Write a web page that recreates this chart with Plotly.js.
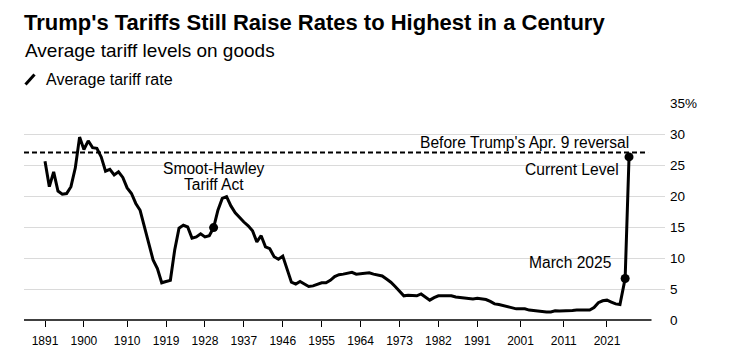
<!DOCTYPE html>
<html>
<head>
<meta charset="utf-8">
<script src="https://cdn.plot.ly/plotly-3.0.1.min.js"></script>
<style>
  html, body { margin: 0; padding: 0; background: #fff; }
  #chart { width: 734px; height: 362px; }
</style>
</head>
<body>
<div id="chart"></div>
<script>
// ---- Data ----
const years = [
  1891, 1892, 1893, 1894, 1895, 1896, 1897, 1898, 1899, 1900,
  1901, 1902, 1903, 1904, 1905, 1906, 1907, 1908, 1909, 1910,
  1911, 1912, 1913, 1914, 1915, 1916, 1917, 1918, 1919, 1920,
  1921, 1922, 1923, 1924, 1925, 1926, 1927, 1928, 1929, 1930,
  1931, 1932, 1933, 1934, 1935, 1936, 1937, 1938, 1939, 1940,
  1941, 1942, 1943, 1944, 1945, 1946, 1947, 1948, 1949, 1950,
  1951, 1952, 1953, 1954, 1955, 1956, 1957, 1958, 1959, 1960,
  1961, 1962, 1963, 1964, 1965, 1966, 1967, 1968, 1969, 1970,
  1971, 1972, 1973, 1974, 1975, 1976, 1977, 1978, 1979, 1980,
  1981, 1982, 1983, 1984, 1985, 1986, 1987, 1988, 1989, 1990,
  1991, 1992, 1993, 1994, 1995, 1996, 1997, 1998, 1999, 2000,
  2001, 2002, 2003, 2004, 2005, 2006, 2007, 2008, 2009, 2010,
  2011, 2012, 2013, 2014, 2015, 2016, 2017, 2018, 2019, 2020,
  2021, 2022, 2023, 2024, 2025.2, 2026.1
];
const tariffRate = [
  25.6, 21.5, 23.9, 20.8, 20.3, 20.4, 21.5, 24.5, 29.5, 27.5,
  28.9, 27.8, 27.7, 26.3, 24.0, 24.3, 23.4, 23.9, 23.0, 21.3,
  20.4, 18.8, 17.7, 15.0, 12.6, 9.7, 8.3, 6.0, 6.2, 6.4,
  11.3, 14.8, 15.3, 15.0, 13.2, 13.4, 13.9, 13.4, 13.6, 14.9,
  17.7, 19.6, 19.9, 18.4, 17.3, 16.5, 15.8, 15.2, 14.4, 12.6,
  13.6, 11.8, 11.5, 10.2, 9.8, 10.3, 8.3, 6.1, 5.8, 6.2,
  5.8, 5.4, 5.5, 5.8, 6.0, 6.0, 6.4, 7.0, 7.3, 7.4,
  7.5, 7.7, 7.4, 7.5, 7.6, 7.6, 7.4, 7.3, 7.1, 6.6,
  6.1, 5.4, 4.7, 3.9, 4.0, 4.0, 3.9, 4.2, 3.7, 3.2,
  3.6, 3.9, 3.9, 3.9, 3.9, 3.7, 3.6, 3.5, 3.5, 3.4,
  3.5, 3.4, 3.3, 3.0, 2.6, 2.5, 2.3, 2.1, 2.0, 1.8,
  1.8, 1.8, 1.6, 1.5, 1.45, 1.35, 1.3, 1.3, 1.5, 1.45,
  1.45, 1.5, 1.55, 1.6, 1.6, 1.6, 1.6, 2.0, 2.8, 3.1,
  3.2, 2.9, 2.6, 2.5, 6.7, 26.3
];
const highlightYears = [1930, 2025.2, 2026.1];
const beforeReversalRate = 27.0;

const xTickVals = [1891, 1900, 1910, 1919, 1928, 1937, 1946, 1955, 1964, 1973, 1982, 1991, 2001, 2011, 2021];
const xTickText = ['1891', '1900', '1910', '1919', '1928', '1937', '1946', '1955', '1964', '1973', '1982', '1991', '2001', '2011', '2021'];
const yTickVals = [0, 5, 10, 15, 20, 25, 30, 35];
const yTickText = ['0', '5', '10', '15', '20', '25', '30', '35%'];

// ---- Layout helpers ----
const W = 734, H = 362;
const M = { l: 24, r: 69, t: 103, b: 42 };
const plotW = W - M.l - M.r, plotH = H - M.t - M.b;
const px2paperX = (px) => (px - M.l) / plotW;
const px2paperY = (py) => (H - M.b - py) / plotH;
const xRange = [1886.14, 2034.42];
const xEndLine = 2031.3;
const xEndDash = 2030.5;

const FONT = '"Liberation Sans", Arial, sans-serif';
const hlX = highlightYears;
const hlY = highlightYears.map(y => tariffRate[years.indexOf(y)]);

const traces = [
  {
    x: years, y: tariffRate, type: 'scatter', mode: 'lines',
    line: { color: '#000', width: 3 }, hoverinfo: 'skip', showlegend: false
  },
  {
    x: hlX, y: hlY, type: 'scatter', mode: 'markers',
    marker: { color: '#000', size: 9 }, hoverinfo: 'skip', showlegend: false
  }
];

const ann = (text, xpx, ypx, size, anchor, extra) => Object.assign({
  text: text, xref: 'paper', yref: 'paper',
  x: px2paperX(xpx), y: px2paperY(ypx),
  xanchor: anchor, yanchor: 'middle', showarrow: false,
  font: { family: FONT, size: size, color: '#000' }
}, extra || {});

const layout = {
  width: W, height: H,
  margin: M,
  paper_bgcolor: '#fff', plot_bgcolor: '#fff',
  title: {
    text: "<b>Trump's Tariffs Still Raise Rates to Highest in a Century</b>",
    x: 24 / W, xanchor: 'left', xref: 'container',
    y: 1 - 22.5 / H, yanchor: 'middle', yref: 'container',
    font: { family: FONT, size: 22, color: '#000' }
  },
  xaxis: {
    range: xRange, showgrid: false, zeroline: false, showline: false,
    tickmode: 'array', tickvals: xTickVals, ticktext: xTickText,
    ticks: 'outside', ticklen: 6, tickwidth: 1, tickcolor: '#000',
    tickfont: { family: FONT, size: 12, color: '#000' },
    ticklabelstandoff: 4,
    fixedrange: true
  },
  yaxis: {
    range: [0, 35], side: 'right', showgrid: true, gridcolor: '#dadada', gridwidth: 1,
    zeroline: false, showline: false, ticks: '',
    tickmode: 'array', tickvals: yTickVals, ticktext: yTickText,
    tickfont: { family: FONT, size: 13.5, color: '#000' },
    ticklabelstandoff: 4,
    fixedrange: true
  },
  shapes: [
    { type: 'line', xref: 'x', yref: 'y', x0: xRange[0], x1: xEndDash, y0: beforeReversalRate, y1: beforeReversalRate,
      line: { color: '#000', width: 2, dash: '5px,3px' } },
    { type: 'line', xref: 'x', yref: 'paper', x0: xEndLine, x1: 2033.3, y0: 0, y1: 0,
      line: { color: '#fff', width: 2 } },
    { type: 'line', xref: 'x', yref: 'paper', x0: xRange[0], x1: xEndLine, y0: 0, y1: 0,
      line: { color: '#000', width: 1.5 } },
    { type: 'line', xref: 'paper', yref: 'paper',
      x0: px2paperX(25.5), y0: px2paperY(84.5), x1: px2paperX(34.5), y1: px2paperY(74.5),
      line: { color: '#000', width: 3 } }
  ],
  annotations: [
    ann('Average tariff levels on goods', 23, 50, 19, 'left'),
    ann('Average tariff rate', 44, 79.5, 16, 'left'),
    ann('Smoot-Hawley', 213.5, 168, 15.6, 'center'),
    ann('Tariff Act', 213.5, 184.5, 15.6, 'center'),
    ann("Before Trump's Apr. 9 reversal", 631, 142.7, 15.6, 'right'),
    ann('Current Level', 621, 169.3, 15.6, 'right'),
    ann('March 2025', 614, 262.7, 15.6, 'right')
  ]
};

Plotly.newPlot('chart', traces, layout, { displayModeBar: false, staticPlot: true });
</script>
</body>
</html>
